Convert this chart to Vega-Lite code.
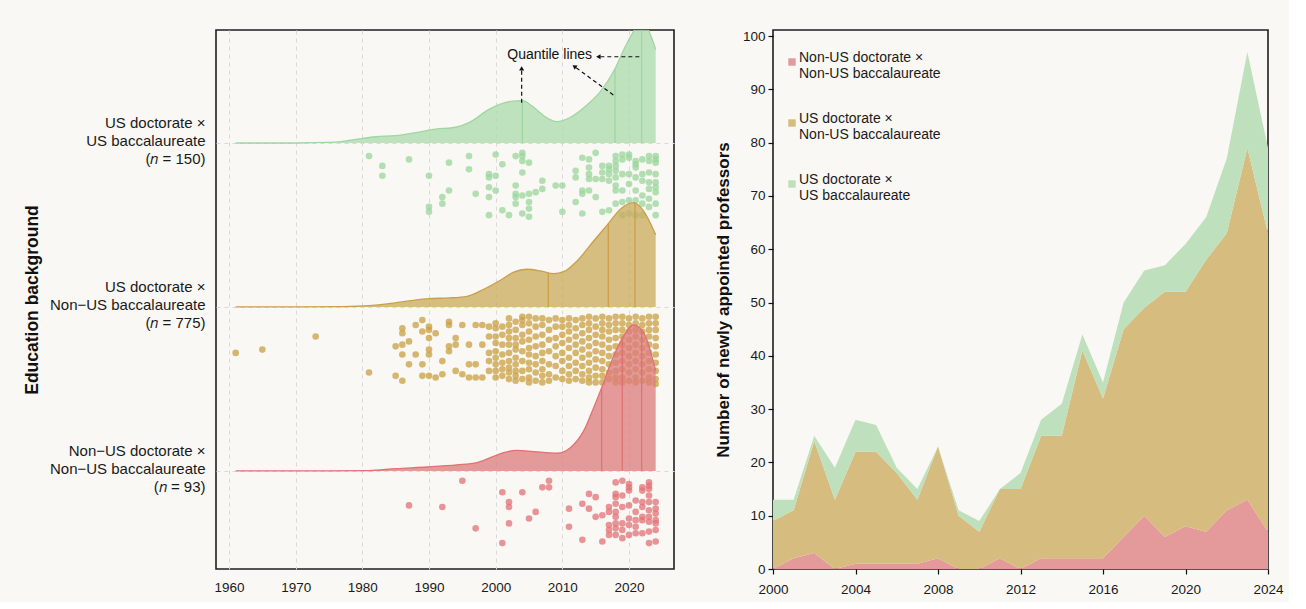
{
"$schema":"https://vega.github.io/schema/vega-lite/v6.json",
"background":"#f9f8f4",
"padding":{"left":22,"top":28,"right":5,"bottom":5},
"config":{
 "font":"Liberation Sans",
 "view":{"stroke":"#1e1e1e","strokeWidth":1.6},
 "axis":{"labelColor":"#1a1a1a","titleColor":"#111111","labelFont":"Liberation Sans","titleFont":"Liberation Sans"}
},
"resolve":{"scale":{"color":"independent","fill":"independent","stroke":"independent"},"legend":{"color":"independent"}},
"datasets":{
"pts":[
{"g":"G","yr":1981,"j":8},{"g":"G","yr":1983,"j":14},{"g":"G","yr":1983,"j":20},{"g":"G","yr":1987,"j":10},
{"g":"G","yr":1990,"j":20},{"g":"G","yr":1990,"j":39},{"g":"G","yr":1990,"j":42},
{"g":"G","yr":1992,"j":33},{"g":"G","yr":1992,"j":37},{"g":"G","yr":1993,"j":12},{"g":"G","yr":1993,"j":29},
{"g":"G","yr":1996,"j":8},{"g":"G","yr":1996,"j":16},{"g":"G","yr":1997,"j":31},
{"g":"G","yr":1999,"j":19},{"g":"G","yr":1999,"j":21},{"g":"G","yr":1999,"j":27},{"g":"G","yr":1999,"j":33},{"g":"G","yr":1999,"j":44},
{"g":"G","yr":2000,"j":7},{"g":"G","yr":2000,"j":20},{"g":"G","yr":2000,"j":29},
{"g":"G","yr":2001,"j":13},{"g":"G","yr":2001,"j":41},{"g":"G","yr":2002,"j":44},
{"g":"G","yr":2003,"j":8},{"g":"G","yr":2003,"j":26},{"g":"G","yr":2003,"j":31},{"g":"G","yr":2003,"j":33},{"g":"G","yr":2003,"j":37},
{"g":"G","yr":2004,"j":6},{"g":"G","yr":2004,"j":8},{"g":"G","yr":2004,"j":11},{"g":"G","yr":2004,"j":18},{"g":"G","yr":2004,"j":32},{"g":"G","yr":2004,"j":43},
{"g":"G","yr":2005,"j":12},{"g":"G","yr":2005,"j":31},{"g":"G","yr":2005,"j":36},{"g":"G","yr":2005,"j":40},{"g":"G","yr":2005,"j":45},
{"g":"G","yr":2006,"j":30},{"g":"G","yr":2007,"j":23},{"g":"G","yr":2007,"j":28},{"g":"G","yr":2009,"j":26},
{"g":"G","yr":2010,"j":26},{"g":"G","yr":2010,"j":42},
{"g":"G","yr":2012,"j":17},{"g":"G","yr":2012,"j":21},{"g":"G","yr":2012,"j":36},
{"g":"G","yr":2013,"j":9},{"g":"G","yr":2013,"j":29},{"g":"G","yr":2013,"j":31},{"g":"G","yr":2013,"j":43},
{"g":"G","yr":2014,"j":10},{"g":"G","yr":2014,"j":15},{"g":"G","yr":2014,"j":19},{"g":"G","yr":2014,"j":22},{"g":"G","yr":2014,"j":29},
{"g":"G","yr":2015,"j":6},{"g":"G","yr":2015,"j":22},{"g":"G","yr":2015,"j":33},
{"g":"G","yr":2016,"j":14},{"g":"G","yr":2016,"j":18},{"g":"G","yr":2016,"j":22},{"g":"G","yr":2016,"j":42},
{"g":"G","yr":2017,"j":14},{"g":"G","yr":2017,"j":16},{"g":"G","yr":2017,"j":19},{"g":"G","yr":2017,"j":23},{"g":"G","yr":2017,"j":41},
{"g":"G","yr":2018,"j":8},{"g":"G","yr":2018,"j":11},{"g":"G","yr":2018,"j":14},{"g":"G","yr":2018,"j":17},{"g":"G","yr":2018,"j":21},{"g":"G","yr":2018,"j":26},{"g":"G","yr":2018,"j":29},{"g":"G","yr":2018,"j":37},
{"g":"G","yr":2019,"j":7},{"g":"G","yr":2019,"j":10},{"g":"G","yr":2019,"j":19},{"g":"G","yr":2019,"j":29},{"g":"G","yr":2019,"j":36},{"g":"G","yr":2019,"j":44},
{"g":"G","yr":2020,"j":7},{"g":"G","yr":2020,"j":9},{"g":"G","yr":2020,"j":19},{"g":"G","yr":2020,"j":25},{"g":"G","yr":2020,"j":35},{"g":"G","yr":2020,"j":43},
{"g":"G","yr":2021,"j":11},{"g":"G","yr":2021,"j":13},{"g":"G","yr":2021,"j":15},{"g":"G","yr":2021,"j":21},{"g":"G","yr":2021,"j":29},{"g":"G","yr":2021,"j":35},{"g":"G","yr":2021,"j":44},
{"g":"G","yr":2022,"j":10},{"g":"G","yr":2022,"j":19},{"g":"G","yr":2022,"j":23},{"g":"G","yr":2022,"j":32},{"g":"G","yr":2022,"j":37},{"g":"G","yr":2022,"j":44},
{"g":"G","yr":2023,"j":8},{"g":"G","yr":2023,"j":11},{"g":"G","yr":2023,"j":18},{"g":"G","yr":2023,"j":24},{"g":"G","yr":2023,"j":28},{"g":"G","yr":2023,"j":34},{"g":"G","yr":2023,"j":39},
{"g":"G","yr":2024,"j":8},{"g":"G","yr":2024,"j":10},{"g":"G","yr":2024,"j":12},{"g":"G","yr":2024,"j":19},{"g":"G","yr":2024,"j":24},{"g":"G","yr":2024,"j":27},{"g":"G","yr":2024,"j":30},{"g":"G","yr":2024,"j":37},{"g":"G","yr":2024,"j":44},

{"g":"Y","yr":1961,"j":28},{"g":"Y","yr":1965,"j":26},{"g":"Y","yr":1973,"j":18},{"g":"Y","yr":1981,"j":40},
{"g":"Y","yr":1985,"j":24},{"g":"Y","yr":1985,"j":42},
{"g":"Y","yr":1986,"j":13},{"g":"Y","yr":1986,"j":16},{"g":"Y","yr":1986,"j":23},{"g":"Y","yr":1986,"j":29},{"g":"Y","yr":1986,"j":45},
{"g":"Y","yr":1987,"j":21},{"g":"Y","yr":1987,"j":35},{"g":"Y","yr":1988,"j":11},{"g":"Y","yr":1988,"j":29},
{"g":"Y","yr":1989,"j":8},{"g":"Y","yr":1989,"j":15},{"g":"Y","yr":1989,"j":35},{"g":"Y","yr":1989,"j":42},
{"g":"Y","yr":1990,"j":12},{"g":"Y","yr":1990,"j":14},{"g":"Y","yr":1990,"j":19},{"g":"Y","yr":1990,"j":26},{"g":"Y","yr":1990,"j":29},{"g":"Y","yr":1990,"j":42},
{"g":"Y","yr":1991,"j":16},{"g":"Y","yr":1991,"j":43},{"g":"Y","yr":1992,"j":33},{"g":"Y","yr":1992,"j":41},
{"g":"Y","yr":1993,"j":9},{"g":"Y","yr":1993,"j":11},{"g":"Y","yr":1993,"j":24},{"g":"Y","yr":1993,"j":27},
{"g":"Y","yr":1994,"j":19},{"g":"Y","yr":1994,"j":23},{"g":"Y","yr":1994,"j":39},{"g":"Y","yr":1995,"j":11},{"g":"Y","yr":1995,"j":41},
{"g":"Y","yr":1996,"j":23},{"g":"Y","yr":1996,"j":35},{"g":"Y","yr":1996,"j":43},
{"g":"Y","yr":1997,"j":11},{"g":"Y","yr":1997,"j":35},{"g":"Y","yr":1997,"j":43},
{"g":"Y","yr":1998,"j":11},{"g":"Y","yr":1998,"j":23},{"g":"Y","yr":1998,"j":43},
{"g":"Y","yr":1999,"j":12},{"g":"Y","yr":1999,"j":18},{"g":"Y","yr":1999,"j":28},{"g":"Y","yr":1999,"j":33},{"g":"Y","yr":1999,"j":39},
{"g":"Y","yr":2000,"j":10},{"g":"Y","yr":2000,"j":13},{"g":"Y","yr":2000,"j":18},{"g":"Y","yr":2000,"j":22},{"g":"Y","yr":2000,"j":27},{"g":"Y","yr":2000,"j":31},{"g":"Y","yr":2000,"j":35},{"g":"Y","yr":2000,"j":39},{"g":"Y","yr":2000,"j":43},
{"g":"Y","yr":2001,"j":12},{"g":"Y","yr":2001,"j":17},{"g":"Y","yr":2001,"j":23},{"g":"Y","yr":2001,"j":29},{"g":"Y","yr":2001,"j":34},{"g":"Y","yr":2001,"j":38},{"g":"Y","yr":2001,"j":42},
{"g":"Y","yr":2002,"j":7},{"g":"Y","yr":2002,"j":11},{"g":"Y","yr":2002,"j":15},{"g":"Y","yr":2002,"j":19},{"g":"Y","yr":2002,"j":23},{"g":"Y","yr":2002,"j":28},{"g":"Y","yr":2002,"j":33},{"g":"Y","yr":2002,"j":37},{"g":"Y","yr":2002,"j":40},{"g":"Y","yr":2002,"j":44},
{"g":"Y","yr":2003,"j":9},{"g":"Y","yr":2003,"j":14},{"g":"Y","yr":2003,"j":19},{"g":"Y","yr":2003,"j":23},{"g":"Y","yr":2003,"j":26},{"g":"Y","yr":2003,"j":31},{"g":"Y","yr":2003,"j":35},{"g":"Y","yr":2003,"j":39},{"g":"Y","yr":2003,"j":42},{"g":"Y","yr":2003,"j":45},
{"g":"Y","yr":2004,"j":6},{"g":"Y","yr":2004,"j":8},{"g":"Y","yr":2004,"j":11},{"g":"Y","yr":2004,"j":17},{"g":"Y","yr":2004,"j":21},{"g":"Y","yr":2004,"j":27},{"g":"Y","yr":2004,"j":33},{"g":"Y","yr":2004,"j":39},{"g":"Y","yr":2004,"j":44},
{"g":"Y","yr":2005,"j":6},{"g":"Y","yr":2005,"j":10},{"g":"Y","yr":2005,"j":15},{"g":"Y","yr":2005,"j":20},{"g":"Y","yr":2005,"j":25},{"g":"Y","yr":2005,"j":29},{"g":"Y","yr":2005,"j":34},{"g":"Y","yr":2005,"j":38},{"g":"Y","yr":2005,"j":43},{"g":"Y","yr":2005,"j":46},
{"g":"Y","yr":2006,"j":7},{"g":"Y","yr":2006,"j":12},{"g":"Y","yr":2006,"j":18},{"g":"Y","yr":2006,"j":24},{"g":"Y","yr":2006,"j":30},{"g":"Y","yr":2006,"j":35},{"g":"Y","yr":2006,"j":40},{"g":"Y","yr":2006,"j":45},
{"g":"Y","yr":2007,"j":7},{"g":"Y","yr":2007,"j":11},{"g":"Y","yr":2007,"j":17},{"g":"Y","yr":2007,"j":23},{"g":"Y","yr":2007,"j":28},{"g":"Y","yr":2007,"j":33},{"g":"Y","yr":2007,"j":38},{"g":"Y","yr":2007,"j":42},{"g":"Y","yr":2007,"j":46},
{"g":"Y","yr":2008,"j":8},{"g":"Y","yr":2008,"j":14},{"g":"Y","yr":2008,"j":20},{"g":"Y","yr":2008,"j":27},{"g":"Y","yr":2008,"j":35},{"g":"Y","yr":2008,"j":41},{"g":"Y","yr":2008,"j":45},
{"g":"Y","yr":2009,"j":7},{"g":"Y","yr":2009,"j":12},{"g":"Y","yr":2009,"j":19},{"g":"Y","yr":2009,"j":24},{"g":"Y","yr":2009,"j":30},{"g":"Y","yr":2009,"j":36},{"g":"Y","yr":2009,"j":43},
{"g":"Y","yr":2010,"j":8},{"g":"Y","yr":2010,"j":12},{"g":"Y","yr":2010,"j":17},{"g":"Y","yr":2010,"j":22},{"g":"Y","yr":2010,"j":28},{"g":"Y","yr":2010,"j":33},{"g":"Y","yr":2010,"j":39},{"g":"Y","yr":2010,"j":44},
{"g":"Y","yr":2011,"j":7},{"g":"Y","yr":2011,"j":11},{"g":"Y","yr":2011,"j":15},{"g":"Y","yr":2011,"j":20},{"g":"Y","yr":2011,"j":25},{"g":"Y","yr":2011,"j":31},{"g":"Y","yr":2011,"j":36},{"g":"Y","yr":2011,"j":41},{"g":"Y","yr":2011,"j":45},
{"g":"Y","yr":2012,"j":8},{"g":"Y","yr":2012,"j":13},{"g":"Y","yr":2012,"j":18},{"g":"Y","yr":2012,"j":23},{"g":"Y","yr":2012,"j":28},{"g":"Y","yr":2012,"j":34},{"g":"Y","yr":2012,"j":39},{"g":"Y","yr":2012,"j":44},
{"g":"Y","yr":2013,"j":7},{"g":"Y","yr":2013,"j":11},{"g":"Y","yr":2013,"j":16},{"g":"Y","yr":2013,"j":21},{"g":"Y","yr":2013,"j":26},{"g":"Y","yr":2013,"j":31},{"g":"Y","yr":2013,"j":36},{"g":"Y","yr":2013,"j":41},{"g":"Y","yr":2013,"j":45},
{"g":"Y","yr":2014,"j":6},{"g":"Y","yr":2014,"j":10},{"g":"Y","yr":2014,"j":14},{"g":"Y","yr":2014,"j":19},{"g":"Y","yr":2014,"j":24},{"g":"Y","yr":2014,"j":29},{"g":"Y","yr":2014,"j":34},{"g":"Y","yr":2014,"j":39},{"g":"Y","yr":2014,"j":43},{"g":"Y","yr":2014,"j":46},
{"g":"Y","yr":2015,"j":7},{"g":"Y","yr":2015,"j":12},{"g":"Y","yr":2015,"j":17},{"g":"Y","yr":2015,"j":22},{"g":"Y","yr":2015,"j":27},{"g":"Y","yr":2015,"j":32},{"g":"Y","yr":2015,"j":37},{"g":"Y","yr":2015,"j":42},{"g":"Y","yr":2015,"j":46},
{"g":"Y","yr":2016,"j":6},{"g":"Y","yr":2016,"j":10},{"g":"Y","yr":2016,"j":14},{"g":"Y","yr":2016,"j":18},{"g":"Y","yr":2016,"j":23},{"g":"Y","yr":2016,"j":28},{"g":"Y","yr":2016,"j":33},{"g":"Y","yr":2016,"j":38},{"g":"Y","yr":2016,"j":42},{"g":"Y","yr":2016,"j":46},
{"g":"Y","yr":2017,"j":7},{"g":"Y","yr":2017,"j":11},{"g":"Y","yr":2017,"j":15},{"g":"Y","yr":2017,"j":20},{"g":"Y","yr":2017,"j":25},{"g":"Y","yr":2017,"j":30},{"g":"Y","yr":2017,"j":35},{"g":"Y","yr":2017,"j":40},{"g":"Y","yr":2017,"j":44},
{"g":"Y","yr":2018,"j":6},{"g":"Y","yr":2018,"j":10},{"g":"Y","yr":2018,"j":14},{"g":"Y","yr":2018,"j":19},{"g":"Y","yr":2018,"j":24},{"g":"Y","yr":2018,"j":29},{"g":"Y","yr":2018,"j":34},{"g":"Y","yr":2018,"j":39},{"g":"Y","yr":2018,"j":43},{"g":"Y","yr":2018,"j":46},
{"g":"Y","yr":2019,"j":6},{"g":"Y","yr":2019,"j":10},{"g":"Y","yr":2019,"j":14},{"g":"Y","yr":2019,"j":18},{"g":"Y","yr":2019,"j":23},{"g":"Y","yr":2019,"j":28},{"g":"Y","yr":2019,"j":33},{"g":"Y","yr":2019,"j":38},{"g":"Y","yr":2019,"j":43},{"g":"Y","yr":2019,"j":46},
{"g":"Y","yr":2020,"j":7},{"g":"Y","yr":2020,"j":11},{"g":"Y","yr":2020,"j":15},{"g":"Y","yr":2020,"j":20},{"g":"Y","yr":2020,"j":25},{"g":"Y","yr":2020,"j":30},{"g":"Y","yr":2020,"j":35},{"g":"Y","yr":2020,"j":40},{"g":"Y","yr":2020,"j":45},
{"g":"Y","yr":2021,"j":6},{"g":"Y","yr":2021,"j":10},{"g":"Y","yr":2021,"j":14},{"g":"Y","yr":2021,"j":18},{"g":"Y","yr":2021,"j":23},{"g":"Y","yr":2021,"j":28},{"g":"Y","yr":2021,"j":33},{"g":"Y","yr":2021,"j":38},{"g":"Y","yr":2021,"j":43},{"g":"Y","yr":2021,"j":46},
{"g":"Y","yr":2022,"j":7},{"g":"Y","yr":2022,"j":11},{"g":"Y","yr":2022,"j":15},{"g":"Y","yr":2022,"j":20},{"g":"Y","yr":2022,"j":25},{"g":"Y","yr":2022,"j":30},{"g":"Y","yr":2022,"j":35},{"g":"Y","yr":2022,"j":40},{"g":"Y","yr":2022,"j":45},
{"g":"Y","yr":2023,"j":6},{"g":"Y","yr":2023,"j":10},{"g":"Y","yr":2023,"j":14},{"g":"Y","yr":2023,"j":18},{"g":"Y","yr":2023,"j":23},{"g":"Y","yr":2023,"j":28},{"g":"Y","yr":2023,"j":33},{"g":"Y","yr":2023,"j":38},{"g":"Y","yr":2023,"j":43},{"g":"Y","yr":2023,"j":46},
{"g":"Y","yr":2024,"j":6},{"g":"Y","yr":2024,"j":10},{"g":"Y","yr":2024,"j":14},{"g":"Y","yr":2024,"j":19},{"g":"Y","yr":2024,"j":24},{"g":"Y","yr":2024,"j":29},{"g":"Y","yr":2024,"j":34},{"g":"Y","yr":2024,"j":39},{"g":"Y","yr":2024,"j":44},{"g":"Y","yr":2024,"j":47},

{"g":"R","yr":1987,"j":21},{"g":"R","yr":1992,"j":22},{"g":"R","yr":1995,"j":6},{"g":"R","yr":1997,"j":35},
{"g":"R","yr":2001,"j":13},{"g":"R","yr":2001,"j":44},
{"g":"R","yr":2002,"j":19},{"g":"R","yr":2002,"j":22},{"g":"R","yr":2002,"j":32},
{"g":"R","yr":2004,"j":13},{"g":"R","yr":2005,"j":29},{"g":"R","yr":2006,"j":25},{"g":"R","yr":2007,"j":10},
{"g":"R","yr":2008,"j":6},{"g":"R","yr":2008,"j":10},
{"g":"R","yr":2011,"j":23},{"g":"R","yr":2011,"j":34},{"g":"R","yr":2013,"j":20},{"g":"R","yr":2013,"j":42},
{"g":"R","yr":2014,"j":14},{"g":"R","yr":2014,"j":23},{"g":"R","yr":2015,"j":16},{"g":"R","yr":2015,"j":28},
{"g":"R","yr":2016,"j":27},{"g":"R","yr":2016,"j":43},
{"g":"R","yr":2017,"j":22},{"g":"R","yr":2017,"j":25},{"g":"R","yr":2017,"j":33},{"g":"R","yr":2017,"j":36},{"g":"R","yr":2017,"j":39},
{"g":"R","yr":2018,"j":7},{"g":"R","yr":2018,"j":14},{"g":"R","yr":2018,"j":16},{"g":"R","yr":2018,"j":20},{"g":"R","yr":2018,"j":25},{"g":"R","yr":2018,"j":28},{"g":"R","yr":2018,"j":32},{"g":"R","yr":2018,"j":35},{"g":"R","yr":2018,"j":39},
{"g":"R","yr":2019,"j":6},{"g":"R","yr":2019,"j":15},{"g":"R","yr":2019,"j":22},{"g":"R","yr":2019,"j":32},{"g":"R","yr":2019,"j":36},{"g":"R","yr":2019,"j":41},
{"g":"R","yr":2020,"j":8},{"g":"R","yr":2020,"j":10},{"g":"R","yr":2020,"j":12},{"g":"R","yr":2020,"j":21},{"g":"R","yr":2020,"j":29},{"g":"R","yr":2020,"j":33},{"g":"R","yr":2020,"j":39},
{"g":"R","yr":2021,"j":18},{"g":"R","yr":2021,"j":25},{"g":"R","yr":2021,"j":30},{"g":"R","yr":2021,"j":34},{"g":"R","yr":2021,"j":38},
{"g":"R","yr":2022,"j":10},{"g":"R","yr":2022,"j":12},{"g":"R","yr":2022,"j":19},{"g":"R","yr":2022,"j":22},{"g":"R","yr":2022,"j":28},{"g":"R","yr":2022,"j":30},{"g":"R","yr":2022,"j":38},
{"g":"R","yr":2023,"j":7},{"g":"R","yr":2023,"j":9},{"g":"R","yr":2023,"j":11},{"g":"R","yr":2023,"j":15},{"g":"R","yr":2023,"j":19},{"g":"R","yr":2023,"j":24},{"g":"R","yr":2023,"j":28},{"g":"R","yr":2023,"j":31},{"g":"R","yr":2023,"j":37},{"g":"R","yr":2023,"j":44},
{"g":"R","yr":2024,"j":19},{"g":"R","yr":2024,"j":23},{"g":"R","yr":2024,"j":26},{"g":"R","yr":2024,"j":30},{"g":"R","yr":2024,"j":32},{"g":"R","yr":2024,"j":36},{"g":"R","yr":2024,"j":43}
],
"dens":[
{"g":"G","yr":1961,"d":0},{"g":"G","yr":1970,"d":0},{"g":"G","yr":1976,"d":0.005},{"g":"G","yr":1979,"d":0.022},{"g":"G","yr":1982,"d":0.038},{"g":"G","yr":1985,"d":0.045},{"g":"G","yr":1988,"d":0.063},{"g":"G","yr":1991,"d":0.084},{"g":"G","yr":1994,"d":0.096},{"g":"G","yr":1996,"d":0.124},{"g":"G","yr":1999,"d":0.205},{"g":"G","yr":2002,"d":0.252},{"g":"G","yr":2004,"d":0.258},{"g":"G","yr":2005.6,"d":0.221},{"g":"G","yr":2007.2,"d":0.166},{"g":"G","yr":2009.2,"d":0.13},{"g":"G","yr":2011.2,"d":0.157},{"g":"G","yr":2013.7,"d":0.232},{"g":"G","yr":2015.7,"d":0.313},{"g":"G","yr":2017.8,"d":0.445},{"g":"G","yr":2019.7,"d":0.608},{"g":"G","yr":2021.7,"d":0.72},{"g":"G","yr":2022.7,"d":0.7},{"g":"G","yr":2024,"d":0.57},
{"g":"Y","yr":1961,"d":0},{"g":"Y","yr":1970,"d":0},{"g":"Y","yr":1977,"d":0.002},{"g":"Y","yr":1981,"d":0.008},{"g":"Y","yr":1984,"d":0.02},{"g":"Y","yr":1987,"d":0.037},{"g":"Y","yr":1990,"d":0.051},{"g":"Y","yr":1993,"d":0.055},{"g":"Y","yr":1995.7,"d":0.065},{"g":"Y","yr":1998.2,"d":0.108},{"g":"Y","yr":2000.7,"d":0.163},{"g":"Y","yr":2002.7,"d":0.213},{"g":"Y","yr":2004.7,"d":0.23},{"g":"Y","yr":2006.7,"d":0.22},{"g":"Y","yr":2008.7,"d":0.203},{"g":"Y","yr":2010.2,"d":0.215},{"g":"Y","yr":2012.2,"d":0.28},{"g":"Y","yr":2014.7,"d":0.402},{"g":"Y","yr":2016.9,"d":0.508},{"g":"Y","yr":2018.7,"d":0.596},{"g":"Y","yr":2020.7,"d":0.636},{"g":"Y","yr":2022.2,"d":0.585},{"g":"Y","yr":2024,"d":0.44},
{"g":"R","yr":1961,"d":0},{"g":"R","yr":1975,"d":0},{"g":"R","yr":1981,"d":0.002},{"g":"R","yr":1985,"d":0.014},{"g":"R","yr":1989.7,"d":0.024},{"g":"R","yr":1994.2,"d":0.037},{"g":"R","yr":1997.2,"d":0.051},{"g":"R","yr":1999.2,"d":0.081},{"g":"R","yr":2001.2,"d":0.112},{"g":"R","yr":2003.2,"d":0.126},{"g":"R","yr":2005.7,"d":0.118},{"g":"R","yr":2009.2,"d":0.108},{"g":"R","yr":2011.2,"d":0.142},{"g":"R","yr":2013.2,"d":0.244},{"g":"R","yr":2014.7,"d":0.386},{"g":"R","yr":2015.9,"d":0.508},{"g":"R","yr":2017.2,"d":0.651},{"g":"R","yr":2018.9,"d":0.803},{"g":"R","yr":2020.7,"d":0.89},{"g":"R","yr":2022.2,"d":0.843},{"g":"R","yr":2024,"d":0.61}
],
"qs":[
{"g":"G","yr":2004,"d":0.258},{"g":"G","yr":2017.9,"d":0.45},{"g":"G","yr":2021.9,"d":0.715},
{"g":"Y","yr":2007.9,"d":0.207},{"g":"Y","yr":2016.9,"d":0.508},{"g":"Y","yr":2020.9,"d":0.635},
{"g":"R","yr":2015.9,"d":0.508},{"g":"R","yr":2019,"d":0.82},{"g":"R","yr":2021.9,"d":0.855}
],
"arr":[
{"yr":2003.9,"y":3.246,"yr2":2003.9,"y2":3.455},
{"yr":2017.65,"y":3.293,"yr2":2011.8,"y2":3.467},
{"yr":2021.55,"y":3.526,"yr2":2015.4,"y2":3.526}
],
"counts":[
{"yr":2000,"grp":"Non-US doctorate × Non-US baccalaureate","n":0},{"yr":2000,"grp":"US doctorate × Non-US baccalaureate","n":9},{"yr":2000,"grp":"US doctorate × US baccalaureate","n":4},
{"yr":2001,"grp":"Non-US doctorate × Non-US baccalaureate","n":2},{"yr":2001,"grp":"US doctorate × Non-US baccalaureate","n":9},{"yr":2001,"grp":"US doctorate × US baccalaureate","n":2},
{"yr":2002,"grp":"Non-US doctorate × Non-US baccalaureate","n":3},{"yr":2002,"grp":"US doctorate × Non-US baccalaureate","n":21},{"yr":2002,"grp":"US doctorate × US baccalaureate","n":1},
{"yr":2003,"grp":"Non-US doctorate × Non-US baccalaureate","n":0},{"yr":2003,"grp":"US doctorate × Non-US baccalaureate","n":13},{"yr":2003,"grp":"US doctorate × US baccalaureate","n":6},
{"yr":2004,"grp":"Non-US doctorate × Non-US baccalaureate","n":1},{"yr":2004,"grp":"US doctorate × Non-US baccalaureate","n":21},{"yr":2004,"grp":"US doctorate × US baccalaureate","n":6},
{"yr":2005,"grp":"Non-US doctorate × Non-US baccalaureate","n":1},{"yr":2005,"grp":"US doctorate × Non-US baccalaureate","n":21},{"yr":2005,"grp":"US doctorate × US baccalaureate","n":5},
{"yr":2006,"grp":"Non-US doctorate × Non-US baccalaureate","n":1},{"yr":2006,"grp":"US doctorate × Non-US baccalaureate","n":17},{"yr":2006,"grp":"US doctorate × US baccalaureate","n":1},
{"yr":2007,"grp":"Non-US doctorate × Non-US baccalaureate","n":1},{"yr":2007,"grp":"US doctorate × Non-US baccalaureate","n":12},{"yr":2007,"grp":"US doctorate × US baccalaureate","n":2},
{"yr":2008,"grp":"Non-US doctorate × Non-US baccalaureate","n":2},{"yr":2008,"grp":"US doctorate × Non-US baccalaureate","n":21},{"yr":2008,"grp":"US doctorate × US baccalaureate","n":0},
{"yr":2009,"grp":"Non-US doctorate × Non-US baccalaureate","n":0},{"yr":2009,"grp":"US doctorate × Non-US baccalaureate","n":10},{"yr":2009,"grp":"US doctorate × US baccalaureate","n":1},
{"yr":2010,"grp":"Non-US doctorate × Non-US baccalaureate","n":0},{"yr":2010,"grp":"US doctorate × Non-US baccalaureate","n":7},{"yr":2010,"grp":"US doctorate × US baccalaureate","n":2},
{"yr":2011,"grp":"Non-US doctorate × Non-US baccalaureate","n":2},{"yr":2011,"grp":"US doctorate × Non-US baccalaureate","n":13},{"yr":2011,"grp":"US doctorate × US baccalaureate","n":0},
{"yr":2012,"grp":"Non-US doctorate × Non-US baccalaureate","n":0},{"yr":2012,"grp":"US doctorate × Non-US baccalaureate","n":15},{"yr":2012,"grp":"US doctorate × US baccalaureate","n":3},
{"yr":2013,"grp":"Non-US doctorate × Non-US baccalaureate","n":2},{"yr":2013,"grp":"US doctorate × Non-US baccalaureate","n":23},{"yr":2013,"grp":"US doctorate × US baccalaureate","n":3},
{"yr":2014,"grp":"Non-US doctorate × Non-US baccalaureate","n":2},{"yr":2014,"grp":"US doctorate × Non-US baccalaureate","n":23},{"yr":2014,"grp":"US doctorate × US baccalaureate","n":6},
{"yr":2015,"grp":"Non-US doctorate × Non-US baccalaureate","n":2},{"yr":2015,"grp":"US doctorate × Non-US baccalaureate","n":39},{"yr":2015,"grp":"US doctorate × US baccalaureate","n":3},
{"yr":2016,"grp":"Non-US doctorate × Non-US baccalaureate","n":2},{"yr":2016,"grp":"US doctorate × Non-US baccalaureate","n":30},{"yr":2016,"grp":"US doctorate × US baccalaureate","n":3},
{"yr":2017,"grp":"Non-US doctorate × Non-US baccalaureate","n":6},{"yr":2017,"grp":"US doctorate × Non-US baccalaureate","n":39},{"yr":2017,"grp":"US doctorate × US baccalaureate","n":5},
{"yr":2018,"grp":"Non-US doctorate × Non-US baccalaureate","n":10},{"yr":2018,"grp":"US doctorate × Non-US baccalaureate","n":39},{"yr":2018,"grp":"US doctorate × US baccalaureate","n":7},
{"yr":2019,"grp":"Non-US doctorate × Non-US baccalaureate","n":6},{"yr":2019,"grp":"US doctorate × Non-US baccalaureate","n":46},{"yr":2019,"grp":"US doctorate × US baccalaureate","n":5},
{"yr":2020,"grp":"Non-US doctorate × Non-US baccalaureate","n":8},{"yr":2020,"grp":"US doctorate × Non-US baccalaureate","n":44},{"yr":2020,"grp":"US doctorate × US baccalaureate","n":9},
{"yr":2021,"grp":"Non-US doctorate × Non-US baccalaureate","n":7},{"yr":2021,"grp":"US doctorate × Non-US baccalaureate","n":51},{"yr":2021,"grp":"US doctorate × US baccalaureate","n":8},
{"yr":2022,"grp":"Non-US doctorate × Non-US baccalaureate","n":11},{"yr":2022,"grp":"US doctorate × Non-US baccalaureate","n":52},{"yr":2022,"grp":"US doctorate × US baccalaureate","n":14},
{"yr":2023,"grp":"Non-US doctorate × Non-US baccalaureate","n":13},{"yr":2023,"grp":"US doctorate × Non-US baccalaureate","n":66},{"yr":2023,"grp":"US doctorate × US baccalaureate","n":18},
{"yr":2024,"grp":"Non-US doctorate × Non-US baccalaureate","n":7},{"yr":2024,"grp":"US doctorate × Non-US baccalaureate","n":56},{"yr":2024,"grp":"US doctorate × US baccalaureate","n":16}
]
},
"spacing":38,
"hconcat":[
{
 "width":458,"height":539,
 "encoding":{
  "x":{"field":"yr","type":"quantitative","scale":{"domain":[1958.05,2026.75],"nice":false,"zero":false},
   "axis":{"title":null,"values":[1960,1970,1980,1990,2000,2010,2020],"format":"d","grid":true,"gridColor":"#d9d9d9","gridDash":[4,4],"gridWidth":1,"ticks":false,"domain":false,"labelFontSize":13.5,"labelPadding":11,"labelFlush":false}},
  "y":{"field":"y","type":"quantitative","scale":{"domain":[0.402,3.689],"nice":false,"zero":false},
   "axis":{"title":"Education background","titleFontSize":17.5,"titleFontWeight":"bold","titlePadding":8,"values":[1,2,3],"grid":true,"gridColor":"#d9d9d9","gridDash":[4,4],"gridWidth":1,"ticks":false,"domain":false,"labelFontSize":15,"labelLineHeight":18,"labelOffset":-20,"labelPadding":11,"labelFlush":false,
    "labelExpr":"datum.value == 3 ? ['US doctorate ×', 'US baccalaureate', '(𝑛 = 150)'] : datum.value == 2 ? ['US doctorate ×', 'Non−US baccalaureate', '(𝑛 = 775)'] : ['Non−US doctorate ×', 'Non−US baccalaureate', '(𝑛 = 93)']"}}
 },
 "layer":[
  {"data":{"name":"pts"},
   "transform":[{"calculate":"(datum.g == 'G' ? 3 : datum.g == 'Y' ? 2 : 1) - datum.j / 100","as":"y"}],
   "mark":{"type":"circle","size":44,"opacity":0.75},
   "encoding":{"color":{"field":"g","type":"nominal","scale":{"domain":["G","Y","R"],"range":["#9ad59c","#c9a042","#e17275"]},"legend":null}}},
  {"data":{"name":"dens"},
   "transform":[{"calculate":"datum.g == 'G' ? 3 : datum.g == 'Y' ? 2 : 1","as":"base"},{"calculate":"datum.base + datum.d","as":"y"}],
   "mark":{"type":"area","interpolate":"monotone","opacity":0.75,"clip":true},
   "encoding":{"y2":{"field":"base"},"fill":{"field":"g","type":"nominal","scale":{"domain":["G","Y","R"],"range":["#a9dbab","#caa959","#dd7b7c"]},"legend":null}}},
  {"data":{"name":"dens"},
   "transform":[{"calculate":"datum.g == 'G' ? 3 : datum.g == 'Y' ? 2 : 1","as":"base"},{"calculate":"datum.base + datum.d","as":"y"}],
   "mark":{"type":"line","interpolate":"monotone","strokeWidth":1.3,"clip":true},
   "encoding":{"stroke":{"field":"g","type":"nominal","scale":{"domain":["G","Y","R"],"range":["#a0d6a1","#c9a04a","#df7272"]},"legend":null}}},
  {"data":{"name":"qs"},
   "transform":[{"calculate":"datum.g == 'G' ? 3 : datum.g == 'Y' ? 2 : 1","as":"y"},{"calculate":"datum.y + datum.d","as":"top"}],
   "mark":{"type":"rule","strokeWidth":1.3,"clip":true},
   "encoding":{"y2":{"field":"top"},"stroke":{"field":"g","type":"nominal","scale":{"domain":["G","Y","R"],"range":["#a0d6a1","#c9a04a","#df7272"]},"legend":null}}},
  {"data":{"name":"arr"},
   "mark":{"type":"rule","color":"#111111","strokeWidth":1.2,"strokeDash":[4,3]},
   "encoding":{"x2":{"field":"yr2"},"y2":{"field":"y2"}}},
  {"data":{"values":[{"yr":2003.9,"y":3.455}]},
   "mark":{"type":"point","shape":"triangle-up","filled":true,"color":"#111111","size":26,"opacity":1},"encoding":{}},
  {"data":{"values":[{"yr":2011.8,"y":3.467}]},
   "mark":{"type":"point","shape":"triangle-up","angle":305,"filled":true,"color":"#111111","size":26,"opacity":1},"encoding":{}},
  {"data":{"values":[{"yr":2015.4,"y":3.526}]},
   "mark":{"type":"point","shape":"triangle-left","filled":true,"color":"#111111","size":26,"opacity":1},"encoding":{}},
  {"data":{"values":[{"yr":2008.1,"y":3.535,"t":"Quantile lines"}]},
   "mark":{"type":"text","fontSize":14,"color":"#111111","font":"Liberation Sans"},
   "encoding":{"text":{"field":"t"}}}
 ]
},
{
 "width":495,"height":539,
 "data":{"name":"counts"},
 "mark":{"type":"area","interpolate":"linear"},
 "encoding":{
  "x":{"field":"yr","type":"quantitative","scale":{"domain":[2000,2024],"nice":false,"zero":false},
   "axis":{"title":null,"values":[2000,2004,2008,2012,2016,2020,2024],"format":"d","grid":false,"domain":false,"ticks":true,"tickColor":"#111111","tickSize":5,"tickWidth":1.2,"labelFontSize":13.5,"labelPadding":8,"labelFlush":false}},
  "y":{"field":"n","type":"quantitative","stack":"zero","scale":{"domain":[0,101.13],"nice":false},
   "axis":{"title":"Number of newly appointed professors","titleFontSize":17,"titleFontWeight":"bold","titlePadding":10,"values":[0,10,20,30,40,50,60,70,80,90,100],"grid":false,"domain":false,"ticks":true,"tickColor":"#111111","tickSize":5,"tickWidth":1.2,"labelFontSize":13.5,"labelPadding":3,"labelFlush":false}},
  "order":{"field":"grp","type":"ordinal","sort":"ascending"},
  "color":{"field":"grp","type":"nominal",
   "scale":{"domain":["Non-US doctorate × Non-US baccalaureate","US doctorate × Non-US baccalaureate","US doctorate × US baccalaureate"],"range":["#e49a9a","#d6bd7f","#bfe0bc"]},
   "legend":{"title":null,"orient":"none","legendX":12,"legendY":25,"symbolType":"square","symbolSize":55,"symbolStrokeWidth":0,"symbolOpacity":1,"labelFontSize":14,"labelLimit":400,"labelOffset":0,"labelBaseline":"alphabetic","labelColor":"#1a1a1a","rowPadding":31,
    "labelExpr":"[split(datum.label, ' × ')[0] + ' ×', split(datum.label, ' × ')[1]]"}}
 }
}
]
}
